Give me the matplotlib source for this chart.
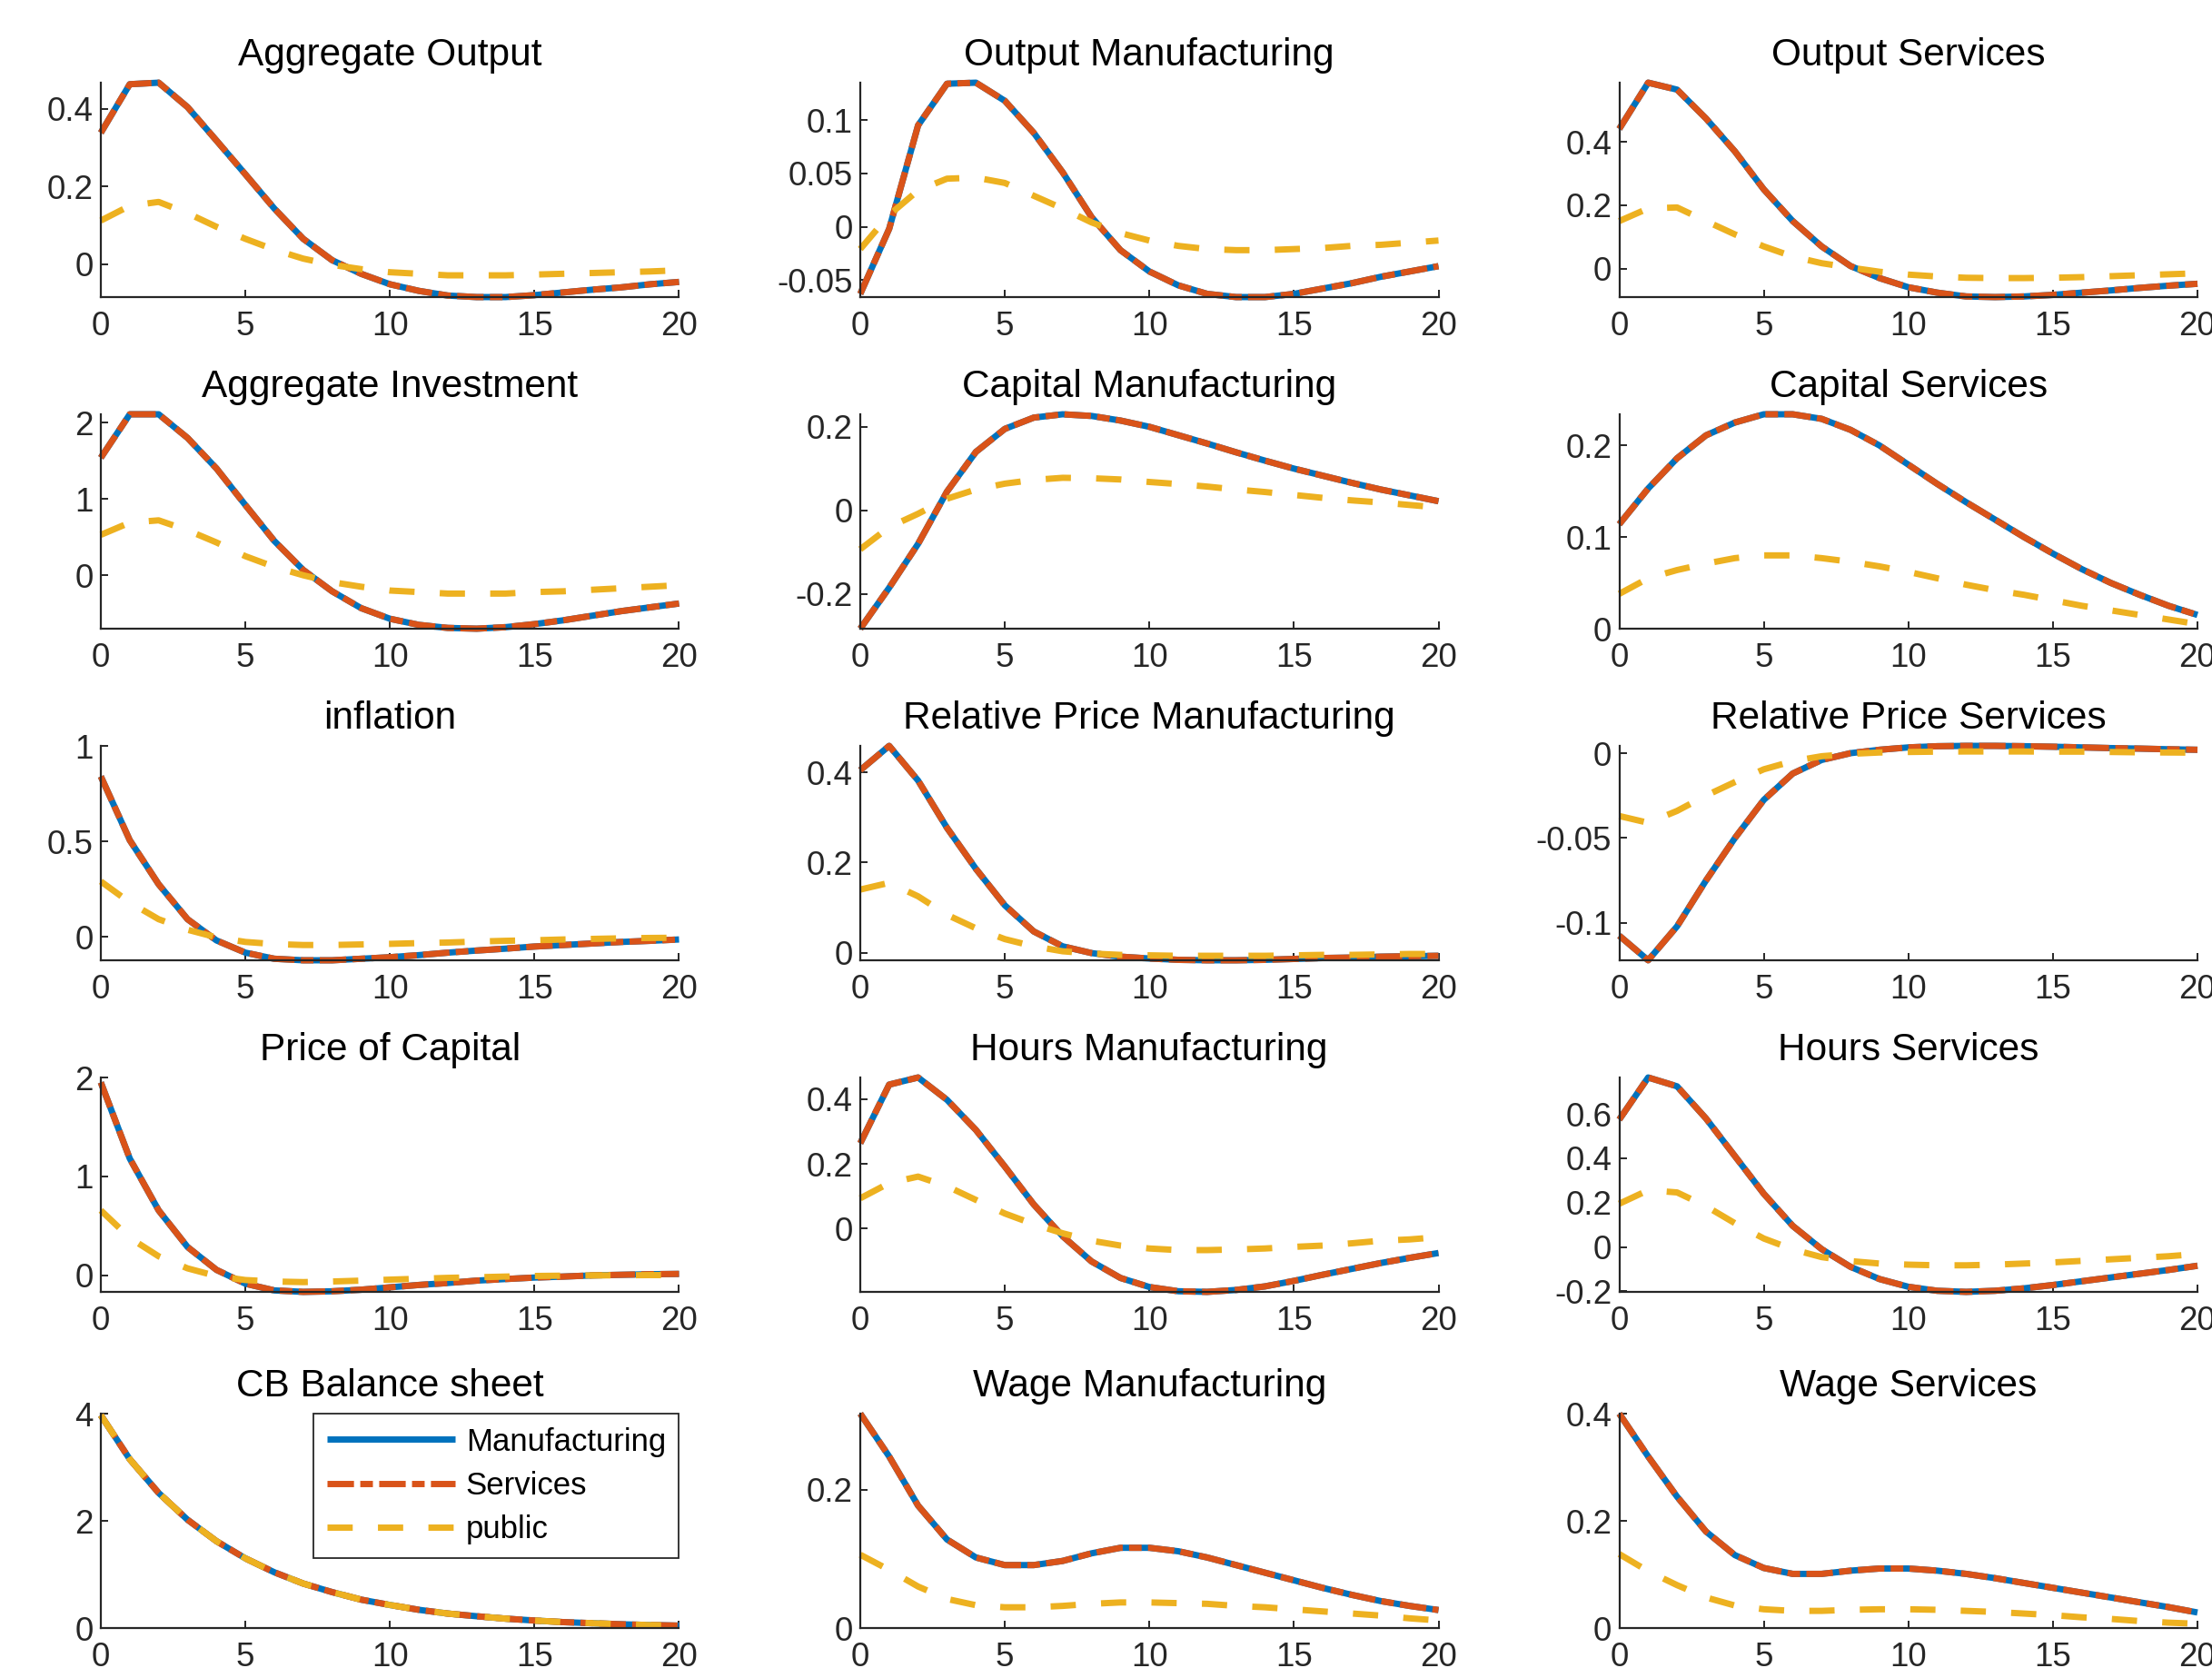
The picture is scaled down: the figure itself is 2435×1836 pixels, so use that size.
import matplotlib
matplotlib.use("Agg")
import matplotlib.pyplot as plt
from matplotlib.ticker import FuncFormatter, FixedLocator

plt.rcParams['font.family'] = ['Liberation Sans', 'DejaVu Sans']
plt.rcParams['lines.scale_dashes'] = False

# ---------------- data ----------------
horizon = list(range(21))
series_names = ["Manufacturing", "Services", "public"]

agg_out_sec = [0.338, 0.463, 0.467, 0.404, 0.318, 0.231, 0.143, 0.065, 0.010, -0.025, -0.052, -0.069, -0.081, -0.085, -0.085, -0.080, -0.073, -0.066, -0.060, -0.052, -0.046]
agg_out_pub = [0.112, 0.150, 0.160, 0.131, 0.096, 0.065, 0.037, 0.014, -0.002, -0.013, -0.021, -0.025, -0.029, -0.029, -0.029, -0.027, -0.025, -0.023, -0.021, -0.019, -0.016]

out_mfg_sec = [-0.063, -0.002, 0.095, 0.134, 0.135, 0.118, 0.088, 0.051, 0.009, -0.022, -0.042, -0.055, -0.063, -0.066, -0.066, -0.063, -0.058, -0.053, -0.047, -0.042, -0.037]
out_mfg_pub = [-0.021, 0.011, 0.034, 0.045, 0.046, 0.041, 0.029, 0.017, 0.004, -0.006, -0.013, -0.018, -0.021, -0.022, -0.022, -0.021, -0.020, -0.018, -0.017, -0.015, -0.013]

out_srv_sec = [0.441, 0.587, 0.565, 0.474, 0.370, 0.250, 0.150, 0.070, 0.008, -0.030, -0.059, -0.076, -0.088, -0.090, -0.088, -0.083, -0.076, -0.069, -0.061, -0.054, -0.048]
out_srv_pub = [0.150, 0.190, 0.193, 0.150, 0.108, 0.070, 0.038, 0.017, 0.003, -0.010, -0.019, -0.025, -0.029, -0.030, -0.030, -0.029, -0.027, -0.024, -0.021, -0.018, -0.015]

agg_inv_sec = [1.54, 2.11, 2.11, 1.80, 1.40, 0.92, 0.45, 0.07, -0.21, -0.43, -0.57, -0.65, -0.69, -0.70, -0.68, -0.64, -0.59, -0.53, -0.47, -0.42, -0.37]
agg_inv_pub = [0.53, 0.69, 0.72, 0.59, 0.43, 0.25, 0.11, 0.00, -0.09, -0.15, -0.20, -0.22, -0.24, -0.24, -0.24, -0.22, -0.21, -0.19, -0.17, -0.15, -0.13]

cap_mfg_sec = [-0.283, -0.185, -0.080, 0.045, 0.140, 0.195, 0.222, 0.230, 0.226, 0.215, 0.200, 0.180, 0.160, 0.139, 0.119, 0.100, 0.083, 0.066, 0.050, 0.036, 0.022]
cap_mfg_pub = [-0.093, -0.040, -0.008, 0.028, 0.050, 0.064, 0.073, 0.078, 0.077, 0.074, 0.068, 0.063, 0.057, 0.050, 0.044, 0.037, 0.030, 0.024, 0.019, 0.013, 0.007]

cap_srv_sec = [0.114, 0.153, 0.186, 0.211, 0.225, 0.234, 0.234, 0.229, 0.217, 0.200, 0.179, 0.158, 0.138, 0.119, 0.100, 0.082, 0.065, 0.050, 0.037, 0.025, 0.015]
cap_srv_pub = [0.038, 0.055, 0.064, 0.071, 0.077, 0.080, 0.080, 0.077, 0.073, 0.068, 0.062, 0.055, 0.048, 0.042, 0.037, 0.031, 0.025, 0.020, 0.015, 0.010, 0.005]

infl_sec = [0.840, 0.506, 0.275, 0.092, -0.019, -0.083, -0.115, -0.123, -0.123, -0.115, -0.107, -0.096, -0.083, -0.072, -0.062, -0.051, -0.043, -0.035, -0.027, -0.021, -0.014]
infl_pub = [0.290, 0.180, 0.092, 0.037, -0.003, -0.027, -0.038, -0.043, -0.043, -0.040, -0.037, -0.033, -0.030, -0.025, -0.021, -0.018, -0.014, -0.011, -0.008, -0.006, -0.005]

relp_mfg_sec = [0.405, 0.459, 0.382, 0.277, 0.186, 0.105, 0.047, 0.014, -0.001, -0.009, -0.013, -0.016, -0.017, -0.017, -0.016, -0.014, -0.012, -0.011, -0.009, -0.008, -0.007]
relp_mfg_pub = [0.140, 0.155, 0.125, 0.084, 0.054, 0.030, 0.014, 0.003, -0.002, -0.005, -0.006, -0.007, -0.007, -0.007, -0.007, -0.006, -0.005, -0.005, -0.004, -0.003, -0.003]

relp_srv_sec = [-0.1075, -0.1220, -0.1020, -0.0750, -0.0500, -0.0275, -0.0120, -0.0040, 0.0000, 0.0020, 0.0034, 0.0041, 0.0043, 0.0043, 0.0041, 0.0038, 0.0034, 0.0030, 0.0027, 0.0023, 0.0020]
relp_srv_pub = [-0.0370, -0.0410, -0.0340, -0.0250, -0.0170, -0.0095, -0.0047, -0.0018, -0.0004, 0.0004, 0.0007, 0.0009, 0.0010, 0.0010, 0.0010, 0.0009, 0.0009, 0.0007, 0.0005, 0.0004, 0.0003]

pcap_sec = [1.95, 1.18, 0.655, 0.284, 0.053, -0.087, -0.155, -0.170, -0.164, -0.148, -0.124, -0.100, -0.080, -0.056, -0.040, -0.025, -0.015, -0.003, 0.003, 0.009, 0.012]
pcap_pub = [0.655, 0.377, 0.190, 0.068, -0.010, -0.050, -0.065, -0.071, -0.065, -0.056, -0.046, -0.037, -0.028, -0.022, -0.015, -0.009, -0.006, -0.003, -0.002, 0.000, 0.000]

hrs_mfg_sec = [0.264, 0.445, 0.467, 0.398, 0.305, 0.192, 0.075, -0.023, -0.101, -0.152, -0.180, -0.193, -0.195, -0.189, -0.178, -0.161, -0.142, -0.124, -0.106, -0.090, -0.075]
hrs_mfg_pub = [0.094, 0.141, 0.161, 0.131, 0.089, 0.047, 0.014, -0.014, -0.037, -0.052, -0.061, -0.066, -0.066, -0.064, -0.061, -0.056, -0.052, -0.045, -0.037, -0.033, -0.026]

hrs_srv_sec = [0.575, 0.765, 0.725, 0.580, 0.410, 0.240, 0.095, -0.010, -0.090, -0.145, -0.180, -0.198, -0.203, -0.198, -0.187, -0.172, -0.155, -0.138, -0.121, -0.104, -0.085]
hrs_srv_pub = [0.195, 0.256, 0.246, 0.184, 0.107, 0.038, -0.011, -0.046, -0.064, -0.075, -0.080, -0.083, -0.083, -0.080, -0.075, -0.070, -0.063, -0.056, -0.049, -0.042, -0.032]

cb_sec = [3.97, 3.15, 2.52, 2.02, 1.62, 1.30, 1.04, 0.83, 0.67, 0.53, 0.43, 0.34, 0.27, 0.22, 0.175, 0.14, 0.11, 0.09, 0.07, 0.055, 0.045]
cb_pub = [3.97, 3.15, 2.52, 2.02, 1.62, 1.30, 1.04, 0.83, 0.67, 0.53, 0.43, 0.34, 0.27, 0.22, 0.175, 0.14, 0.11, 0.09, 0.07, 0.055, 0.045]

wage_mfg_sec = [0.310, 0.248, 0.177, 0.128, 0.102, 0.091, 0.091, 0.097, 0.108, 0.116, 0.116, 0.111, 0.102, 0.091, 0.080, 0.069, 0.058, 0.048, 0.039, 0.032, 0.026]
wage_mfg_pub = [0.106, 0.084, 0.060, 0.042, 0.033, 0.030, 0.030, 0.032, 0.035, 0.037, 0.037, 0.036, 0.035, 0.032, 0.030, 0.027, 0.024, 0.021, 0.018, 0.014, 0.011]

wage_srv_sec = [0.400, 0.320, 0.245, 0.180, 0.136, 0.112, 0.101, 0.101, 0.107, 0.111, 0.111, 0.107, 0.101, 0.093, 0.084, 0.075, 0.066, 0.057, 0.048, 0.039, 0.029]
wage_srv_pub = [0.138, 0.106, 0.080, 0.057, 0.042, 0.035, 0.032, 0.032, 0.034, 0.035, 0.035, 0.034, 0.032, 0.030, 0.027, 0.024, 0.020, 0.017, 0.013, 0.010, 0.008]

titles = ["Aggregate Output", "Output Manufacturing", "Output Services",
          "Aggregate Investment", "Capital Manufacturing", "Capital Services",
          "inflation", "Relative Price Manufacturing", "Relative Price Services",
          "Price of Capital", "Hours Manufacturing", "Hours Services",
          "CB Balance sheet", "Wage Manufacturing", "Wage Services"]

# Manufacturing and Services scenario responses coincide in the chart
sector_lines = [agg_out_sec, out_mfg_sec, out_srv_sec, agg_inv_sec, cap_mfg_sec, cap_srv_sec,
                infl_sec, relp_mfg_sec, relp_srv_sec, pcap_sec, hrs_mfg_sec, hrs_srv_sec,
                cb_sec, wage_mfg_sec, wage_srv_sec]
public_lines = [agg_out_pub, out_mfg_pub, out_srv_pub, agg_inv_pub, cap_mfg_pub, cap_srv_pub,
                infl_pub, relp_mfg_pub, relp_srv_pub, pcap_pub, hrs_mfg_pub, hrs_srv_pub,
                cb_pub, wage_mfg_pub, wage_srv_pub]

y_ticks = [[0, 0.2, 0.4], [-0.05, 0, 0.05, 0.1], [0, 0.2, 0.4],
           [0, 1, 2], [-0.2, 0, 0.2], [0, 0.1, 0.2],
           [0, 0.5, 1], [0, 0.2, 0.4], [-0.1, -0.05, 0],
           [0, 1, 2], [0, 0.2, 0.4], [-0.2, 0, 0.2, 0.4, 0.6],
           [0, 2, 4], [0, 0.2], [0, 0.2, 0.4]]
x_ticks = [0, 5, 10, 15, 20]

# axis-limit overrides where the axis is not tight to the data
ylim_override = {6: (None, 1.0), 9: (None, 2.0), 5: (0.0, None), 12: (0.0, 4.0),
                 13: (0.0, None), 14: (0.0, None)}

# ---------------- style ----------------
C_BLUE, C_ORANGE, C_YELLOW = "#0072BD", "#D95319", "#EDB120"
AX_COL = "#262626"
LW = 5.0

W, H, DPI = 2435, 1836, 100
fig = plt.figure(figsize=(W / DPI, H / DPI), dpi=DPI)

col_left = [111, 947, 1782.5]
row_top = [91, 456, 821, 1186, 1556]
ax_w, ax_h = 636.5, 236

fmt = FuncFormatter(lambda v, _: f"{v:g}")

for i in range(15):
    r, c = divmod(i, 3)
    ax = fig.add_axes([col_left[c] / W, 1 - (row_top[r] + ax_h) / H, ax_w / W, ax_h / H])
    sec = sector_lines[i]
    pub = public_lines[i]
    l1, = ax.plot(horizon, sec, color=C_BLUE, lw=LW, ls='-', clip_on=False,
                  solid_capstyle='butt', label=series_names[0])
    l2, = ax.plot(horizon, sec, color=C_ORANGE, lw=LW, dashes=(21, 5, 10, 5), clip_on=False,
                  dash_capstyle='butt', label=series_names[1])
    l3, = ax.plot(horizon, pub, color=C_YELLOW, lw=LW, dashes=(20, 20), clip_on=False,
                  dash_capstyle='butt', label=series_names[2])
    lo = min(min(sec), min(pub))
    hi = max(max(sec), max(pub))
    if i in ylim_override:
        olo, ohi = ylim_override[i]
        lo = lo if olo is None else olo
        hi = hi if ohi is None else ohi
    ax.set_ylim(lo, hi)
    ax.set_xlim(0, 20)
    ax.xaxis.set_major_locator(FixedLocator(x_ticks))
    ax.yaxis.set_major_locator(FixedLocator(y_ticks[i]))
    ax.yaxis.set_major_formatter(fmt)
    ax.xaxis.set_major_formatter(fmt)
    for s in ['top', 'right']:
        ax.spines[s].set_visible(False)
    for s in ['left', 'bottom']:
        ax.spines[s].set_color(AX_COL)
        ax.spines[s].set_linewidth(1.6)
    ax.tick_params(axis='both', direction='in', length=5.5, width=1.4,
                   colors=AX_COL, labelsize=26.5, labelcolor=AX_COL)
    ax.tick_params(axis='x', pad=11)
    ax.tick_params(axis='y', pad=6)
    ax.set_title(titles[i], fontsize=30.5, color='black', pad=14)
    if i == 12:
        leg = ax.legend(handles=[l1, l2, l3], loc='upper right', fontsize=25,
                        frameon=True, fancybox=False, edgecolor=AX_COL, framealpha=1,
                        borderaxespad=0.0, borderpad=0.42, labelspacing=0.44,
                        handlelength=4.05, handletextpad=0.35)
        leg.get_frame().set_linewidth(1.3)

fig.savefig("out.png", dpi=DPI)
